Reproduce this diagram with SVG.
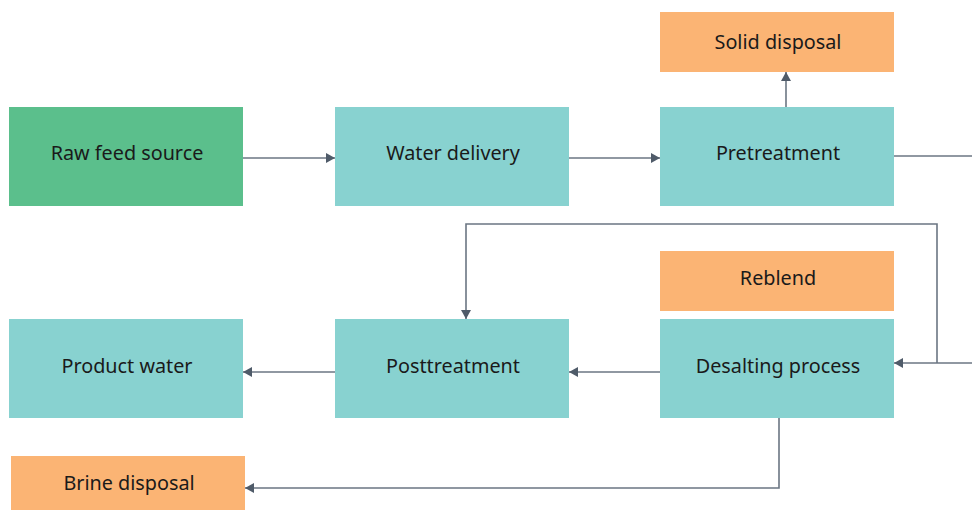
<svg xmlns="http://www.w3.org/2000/svg" width="972" height="510" viewBox="0 0 972 510">
<style>
.teal{fill:#88d2d0}
.orange{fill:#fbb474}
.green{fill:#5bbf8c}
text{font-family:"Noto Sans","Open Sans",sans-serif;font-size:19.8px;fill:#1a1a1a;text-anchor:middle;dominant-baseline:central}
.c{fill:none;stroke:#6b7683;stroke-width:1.6}
</style>
<defs>
<marker id="a" markerWidth="10" markerHeight="10" refX="9" refY="5" orient="auto" markerUnits="userSpaceOnUse">
<path d="M0,0 L9,5 L0,10 Z" fill="#4f5b69"/>
</marker>
</defs>
<rect width="972" height="510" fill="#fff"/>
<g id="raw"><rect class="green" x="9" y="107" width="234" height="99"/><text x="127" y="152">Raw feed source</text></g>
<g id="delivery"><rect class="teal" x="335" y="107" width="234" height="99"/><text x="453" y="152">Water delivery</text></g>
<g id="pretreatment"><rect class="teal" x="660" y="107" width="234" height="99"/><text x="778" y="152">Pretreatment</text></g>
<g id="solid"><rect class="orange" x="660" y="12" width="234" height="60"/><text x="778" y="41">Solid disposal</text></g>
<g id="reblend"><rect class="orange" x="660" y="251" width="234" height="60"/><text x="778" y="277">Reblend</text></g>
<g id="desalting"><rect class="teal" x="660" y="319" width="234" height="99"/><text x="778" y="365">Desalting process</text></g>
<g id="posttreatment"><rect class="teal" x="335" y="319" width="234" height="99"/><text x="453" y="365">Posttreatment</text></g>
<g id="product"><rect class="teal" x="9" y="319" width="234" height="99"/><text x="127" y="365">Product water</text></g>
<g id="brine"><rect class="orange" x="11" y="456" width="234" height="54"/><text x="129" y="482">Brine disposal</text></g>
<g id="connectors">
<path class="c" d="M243,158 H335" marker-end="url(#a)"/>
<path class="c" d="M569,158 H660" marker-end="url(#a)"/>
<path class="c" d="M786,107 V72" marker-end="url(#a)"/>
<path class="c" d="M894,156 H972"/>
<path class="c" d="M972,363 H894" marker-end="url(#a)"/>
<path class="c" d="M937,363 V224 H466 V319" marker-end="url(#a)"/>
<path class="c" d="M660,372 H569" marker-end="url(#a)"/>
<path class="c" d="M335,372 H243" marker-end="url(#a)"/>
<path class="c" d="M779,418 V488 H245" marker-end="url(#a)"/>
</g>
</svg>
